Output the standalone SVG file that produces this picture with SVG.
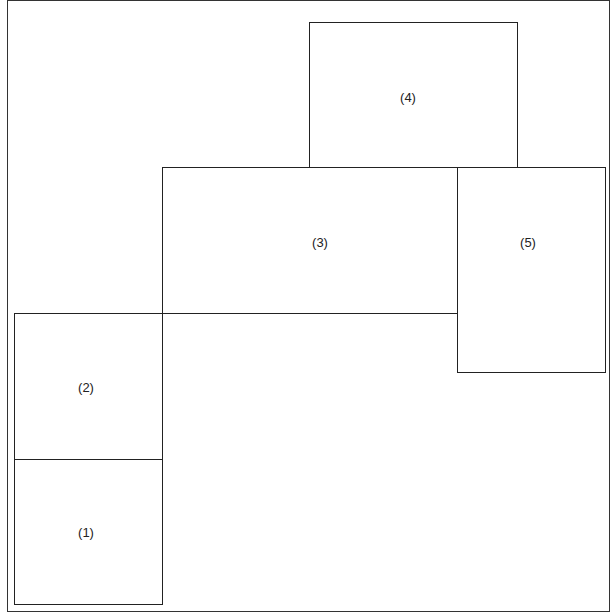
<svg xmlns="http://www.w3.org/2000/svg" width="611" height="615" viewBox="0 0 611 615">
<style>
.n rect{fill:#fff;stroke:#222;stroke-width:1}
.n text{font-family:"Liberation Sans",Arial,sans-serif;font-size:13px;fill:#222;text-anchor:middle;dominant-baseline:central}
</style>
<rect x="0" y="0" width="611" height="615" fill="#fff"/>
<rect x="7.5" y="0.5" width="602" height="611" fill="none" stroke="#333" stroke-width="1"/>
<g id="connectors"></g>
<g id="n1" class="n"><rect x="14.5" y="459.5" width="148" height="145"/><text x="86" y="532">(1)</text></g>
<g id="n2" class="n"><rect x="14.5" y="313.5" width="148" height="146"/><text x="86" y="387">(2)</text></g>
<g id="n3" class="n"><rect x="162.5" y="167.5" width="295" height="146"/><text x="320" y="242">(3)</text></g>
<g id="n4" class="n"><rect x="309.5" y="22.5" width="208" height="145"/><text x="408" y="97">(4)</text></g>
<g id="n5" class="n"><rect x="457.5" y="167.5" width="148" height="205"/><text x="528" y="242">(5)</text></g>
</svg>
